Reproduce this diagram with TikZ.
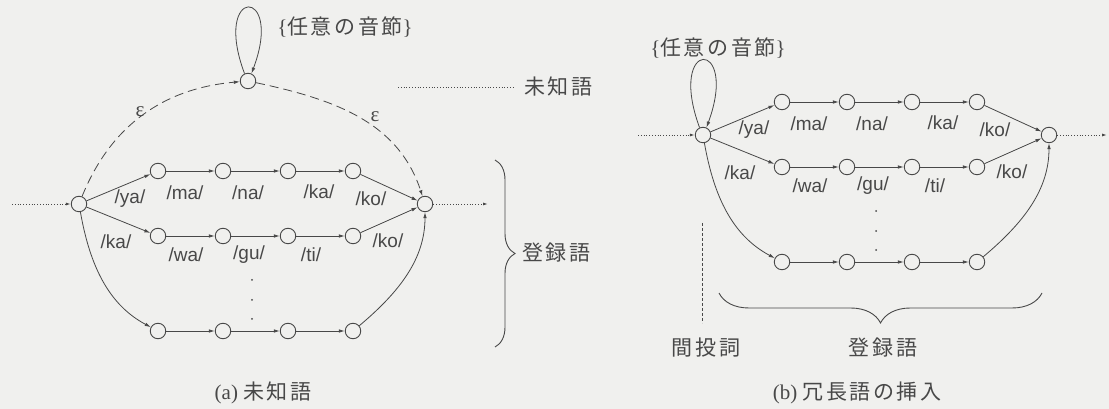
\documentclass[tikz,border=0pt]{standalone}
\usepackage{fontspec}
\setmainfont{Liberation Serif}
\setsansfont{Liberation Sans}
\newfontfamily\jp{Noto Sans CJK JP}[LetterSpace=12]
\usetikzlibrary{arrows.meta,decorations.pathreplacing,calc}
\definecolor{ink}{RGB}{72,72,72}
\definecolor{paper}{RGB}{240,240,238}
\tikzset{
  st/.style={circle,draw=ink,line width=0.9pt,minimum size=15.5pt,inner sep=0pt,fill=paper},
  arr/.style={draw=ink,line width=0.8pt,-{Latex[length=6pt,width=3.6pt]}},
  dotl/.style={draw=ink,line width=0.9pt,dash pattern=on 1pt off 1.8pt},
  dsh/.style={arr,dash pattern=on 9pt off 5pt},
  lab/.style={font=\sffamily\fontsize{19}{19}\selectfont,text=ink,inner sep=0pt},
  jtx/.style={font=\jp\fontsize{21}{21}\selectfont,text=ink,inner sep=0pt},
  eps/.style={font=\rmfamily\fontsize{21}{21}\selectfont,text=ink,inner sep=0pt},
  dotn/.style={circle,fill=ink,inner sep=0pt,minimum size=2pt},
  brc/.style={draw=ink,line width=0.9pt,decorate},
  words/.pic={
    \node[st] (-s) at (0,0) {};
    \node[st] (-e) at (346,0) {};
    \foreach \i/\x in {1/79,2/144,3/209,4/274}{
      \node[st] (-t\i) at (\x,33) {};
      \node[st] (-m\i) at (\x,-32) {};
      \node[st] (-b\i) at (\x,-127) {};
    }
    \draw[arr] (-s) -- (-t1);
    \draw[arr] (-s) -- (-m1);
    \foreach \i/\j in {1/2,2/3,3/4}{
      \draw[arr] (-t\i) -- (-t\j);
      \draw[arr] (-m\i) -- (-m\j);
      \draw[arr] (-b\i) -- (-b\j);
    }
    \draw[arr] (-t4) -- (-e);
    \draw[arr] (-m4) -- (-e);
    \draw[arr] (-s) to[out=-80,in=152] (-b1);
    \draw[arr] (-b4) to[out=40,in=-90] (-e);
    \node[dotn] (-d1) at (173,-76) {};
    \node[dotn] (-d2) at (173,-96) {};
    \node[dotn] (-d3) at (173,-115) {};
    \node[lab] (-l1) at (51,5) {/ya/};
    \node[lab] (-l2) at (106,11) {/ma/};
    \node[lab] (-l3) at (169,11) {/na/};
    \node[lab] (-l4) at (240,12) {/ka/};
    \node[lab] (-l5) at (292,5) {/ko/};
    \node[lab] (-k1) at (37,-38) {/ka/};
    \node[lab] (-k2) at (107,-51) {/wa/};
    \node[lab] (-k3) at (170,-51) {/gu/};
    \node[lab] (-k4) at (232,-51) {/ti/};
    \node[lab] (-k5) at (309,-37) {/ko/};
  }
}
\begin{document}
\begin{tikzpicture}[x=1pt,y=1pt]
\fill[paper] (0,0) rectangle (1109,409);
\useasboundingbox (0,0) rectangle (1109,409);
% ---------- panel (a)
\pic (a) at (79,205) {words};
\coordinate (ain) at (12,205);
\coordinate (aout) at (488,205);
\draw[dotl,-{Latex[length=5pt,width=3pt]}] (ain) -- (a-s);
\draw[dotl,-{Latex[length=5pt,width=3pt]}] (a-e) -- (aout);
\node[st] (aL) at (248,328) {};
\draw[dsh] (a-s) to[out=68,in=185] (aL);
\draw[dsh] (aL) to[out=-12,in=108] (a-e);
\draw[arr] (aL.115) .. controls +(-33,88) and +(33,88) .. (aL.65);
\node[eps] (ae1) at (140,297) {ε};
\node[eps] (ae2) at (375,292) {ε};
\node[jtx] (asyl) at (345,382) {{\rmfamily\{}任意の音節{\rmfamily\}}};
\coordinate (mu1) at (398,322);
\coordinate (mu2) at (513,322);
\draw[dotl] (mu1) -- (mu2);
\node[jtx,anchor=west] (amu) at (524,322) {未知語};
\draw[brc,decoration={brace,amplitude=20pt,aspect=0.5}] (495,249) -- (495,62);
\node[jtx,anchor=west] (atr) at (522,156) {登録語};
\node[jtx] (acap) at (263,16) {{\rmfamily (a) }未知語};
% ---------- panel (b)
\pic (b) at (703,274) {words};
\coordinate (bin) at (638,274);
\coordinate (bout) at (1107,274);
\draw[dotl,-{Latex[length=5pt,width=3pt]}] (bin) -- (b-s);
\draw[dotl,-{Latex[length=5pt,width=3pt]}] (b-e) -- (bout);
\draw[arr] (b-s.115) .. controls +(-33,90) and +(33,90) .. (b-s.65);
\node[jtx] (bsyl) at (718,361) {{\rmfamily\{}任意の音節{\rmfamily\}}};
\coordinate (k1) at (702,186);
\coordinate (k2) at (702,86);
\draw[draw=ink,line width=0.8pt,dash pattern=on 3pt off 2pt] (k1) -- (k2);
\node[jtx] (bkan) at (706,61) {間投詞};
\draw[brc,decoration={brace,amplitude=30pt,aspect=0.5}] (1042,116) -- (719,116);
\node[jtx] (btr) at (883,61) {登録語};
\node[jtx] (bcap) at (857,16) {{\rmfamily (b) }冗長語の挿入};
\end{tikzpicture}
\end{document}
